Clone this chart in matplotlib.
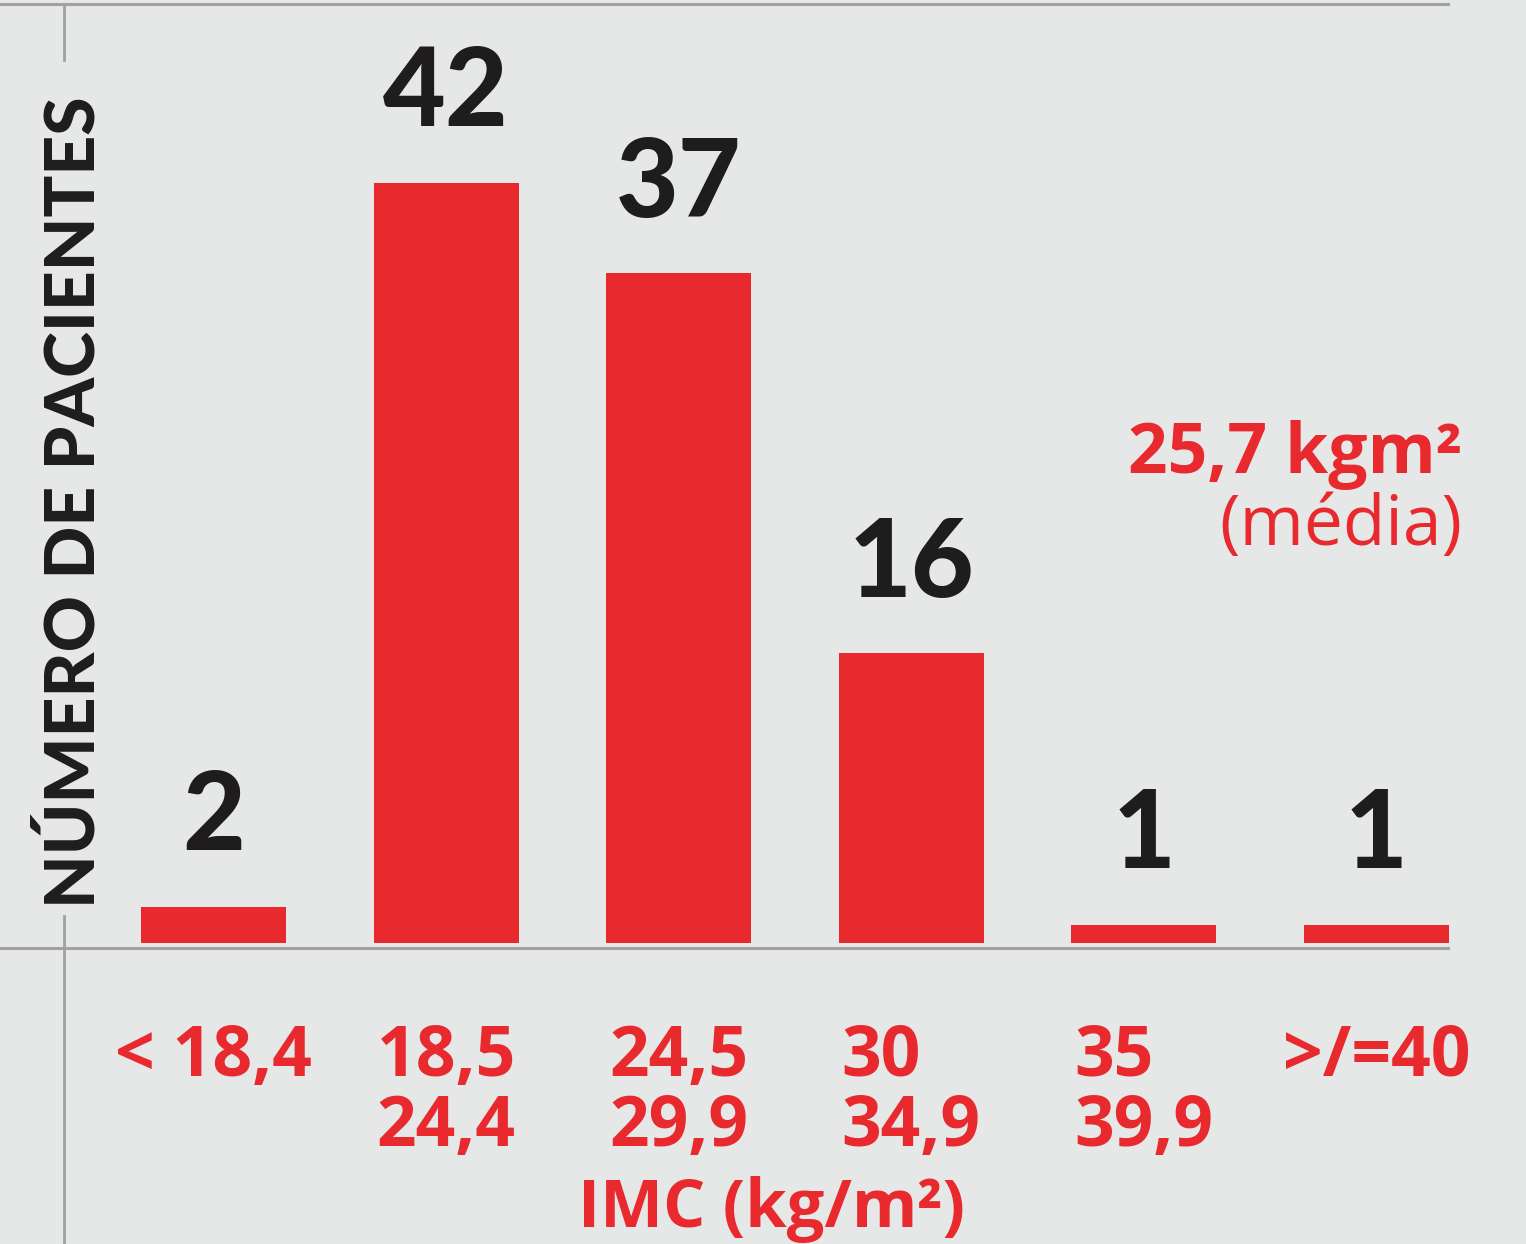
import matplotlib
matplotlib.use("Agg")
import matplotlib.pyplot as plt
import numpy as np

# data
categories = ["< 18,4", "18,5\n24,4", "24,5\n29,9", "30\n34,9", "35\n39,9", ">/=40"]
pacientes = [2, 42, 37, 16, 1, 1]
media_label = "25,7 kgm²"
media_sub = "(média)"
ylabel = "NÚMERO DE PACIENTES"
xlabel = "IMC (kg/m²)"

red = "#e8292e"
bg = "#e6e8e7"
grey = "#a0a1a0"

fig = plt.figure(figsize=(15.26, 12.44), dpi=100, facecolor=bg)
ax = fig.add_axes([0, 0, 1, 1])
ax.set_facecolor(bg)

x = np.arange(len(categories))
ax.bar(x, pacientes, width=0.623, color=red, zorder=3)

# px scale: centres at 213.5 + i*232.6 ; 18.1 px per patient, bars start 943 px from top
ax.set_xlim(-0.918, 5.643)
ax.set_ylim(-16.63, 52.11)
ax.axis("off")

# frame lines
ax.axhline(-0.28, xmin=0, xmax=1448 / 1526, color=grey, lw=2.2, zorder=2)
ax.axhline(51.9, xmin=0, xmax=1448 / 1526, color=grey, lw=2.2, zorder=2)
ax.axvline(-0.643, ymin=1184 / 1244, ymax=1240 / 1244, color=grey, lw=2.0)
ax.axvline(-0.643, ymin=0, ymax=328 / 1244, color=grey, lw=2.0)

# value labels
for xi, v in zip(x, pacientes):
    ax.annotate(str(v), (xi, v), xytext=(0, 28), textcoords="offset points",
                ha="center", va="bottom", fontsize=78, fontweight="black",
                family="Lato", color="#1e1c1c")

# category labels
for xi, c in zip(x, categories):
    ax.text(xi, -4.4, c, ha="center", va="top", ma="left", fontsize=50,
            fontweight="bold", family="Open Sans", color=red, linespacing=1.0)

ax.text(2.4, -15.7, xlabel, ha="center", va="baseline", fontsize=48,
        fontweight="bold", family="Open Sans", color=red)

ax.text(-0.6, 24.37, ylabel, rotation=90, ha="center", va="center", fontsize=50,
        fontweight="black", family="Lato", color="#1e1c1c")

ax.text(5.37, 26.0, media_label, ha="right", va="baseline", fontsize=50,
        fontweight="bold", family="Open Sans", color=red)
ax.text(5.367, 22.0, media_sub, ha="right", va="baseline", fontsize=50,
        family="Open Sans", color=red)

fig.savefig("out.png", dpi=100, facecolor=bg)
